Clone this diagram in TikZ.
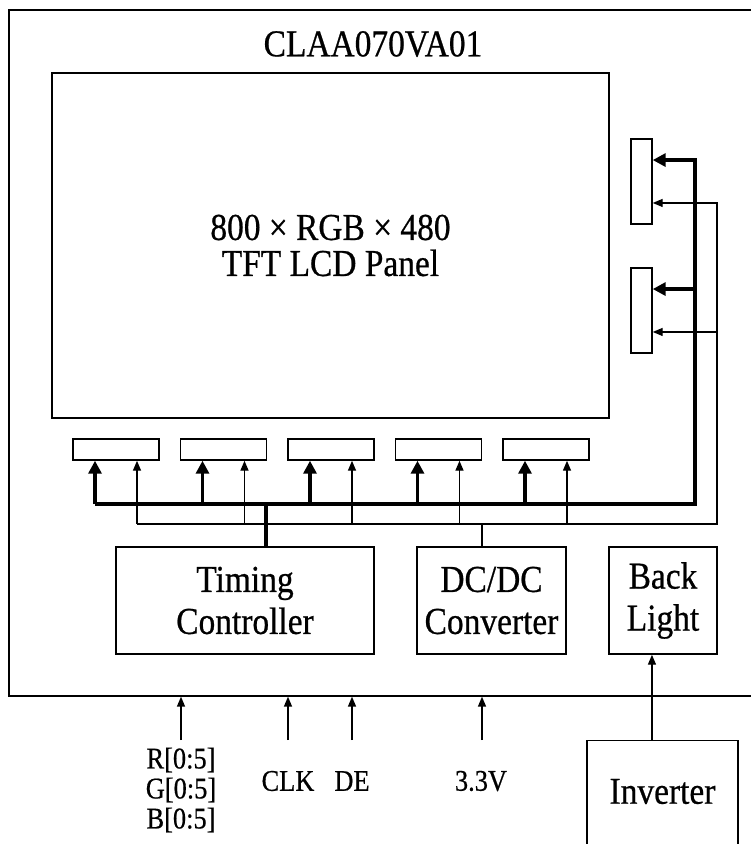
\documentclass[tikz,border=0pt]{standalone}
\usepackage{fontspec}
\setmainfont{Liberation Serif}[FakeStretch=0.88, FakeBold=0.6]
\usetikzlibrary{arrows.meta}

\begin{document}
\begin{tikzpicture}[
    x=0.75pt, y=-0.75pt,
    box/.style={draw, line width=1.1pt, inner sep=0pt, align=center, font=\fontsize{28.5}{31.5}\selectfont},
    chip/.style={draw, line width=1.1pt, inner sep=0pt},
    sig/.style={align=center, font=\fontsize{22.5}{22.5}\selectfont},
    bus/.style={line width=2.5pt},
    wire/.style={line width=1.1pt},
    fat/.style={bus, -{Triangle[length=9.75pt, width=9.75pt]}},
    link/.style={wire, -{Triangle[length=7.5pt, width=6pt]}}
]
\useasboundingbox (0,0) rectangle (751,844);
\clip (0,0) rectangle (751,844);
\node[draw, line width=1pt, minimum width=570.75pt, minimum height=514.5pt] (module) at (389.5,353) {};
\node[font=\fontsize{28.5}{30}\selectfont] (title) at (373,44) {CLAA070VA01};
\node[box, minimum width=417.75pt, minimum height=258.75pt, font=\fontsize{28.5}{27}\selectfont] (panel) at (330.5,245.5) {800 × RGB × 480\\TFT LCD Panel};

% source and gate drivers
\foreach \i/\x in {1/116, 2/223.5, 3/331, 4/438.5, 5/546}
  \node[chip, minimum width=64.5pt, minimum height=15.75pt] (s\i) at (\x,449.5) {};
\node[chip, minimum width=15.75pt, minimum height=63.75pt] (g1) at (641.5,181.5) {};
\node[chip, minimum width=15.75pt, minimum height=63.75pt] (g2) at (641.5,310.5) {};

\node[box, minimum width=193.5pt, minimum height=80.25pt] (tcon) at (245,600.5) {Timing\\Controller};
\node[box, minimum width=111.75pt, minimum height=80.25pt] (dcdc) at (491.5,600.5) {DC/DC\\Converter};
\node[box, minimum width=81pt, minimum height=80.25pt] (blight) at (663,600.5) {Back\\Light};
\node[draw, line width=1.1pt, anchor=north, minimum width=113.25pt, inner sep=0pt, text height=47.25pt, text depth=72.75pt, font=\fontsize{28.5}{30}\selectfont] (inv) at (662.5,740) {Inverter};

\coordinate (tbus) at (695,504);
\coordinate (wbus) at (717,524);

% buses
\draw[bus] ([xshift=15.75pt]tcon.north) -- ([xshift=15.75pt]tcon.north |- tbus);
\draw[fat] ([xshift=-15.75pt]s1.south |- tbus) -- (tbus) -- ([yshift=16.1pt]g1.east -| tbus) -- ([yshift=16.1pt]g1.east);
\draw[fat] ([yshift=16.1pt]g2.east -| tbus) -- ([yshift=16.1pt]g2.east);
\draw[wire] ([xshift=-7.1pt]dcdc.north) -- ([xshift=-7.1pt]dcdc.north |- wbus);
\draw[link] ([xshift=15.75pt]s1.south |- wbus) -- (wbus) -- ([yshift=-16.1pt]g1.east -| wbus) -- ([yshift=-16.1pt]g1.east);
\draw[link] ([yshift=-16.1pt]g2.east -| wbus) -- ([yshift=-16.1pt]g2.east);
\foreach \i in {1,...,5} {
  \draw[fat] ([xshift=-15.75pt]s\i.south |- tbus) -- ([xshift=-15.75pt]s\i.south);
  \draw[link] ([xshift=15.75pt]s\i.south |- wbus) -- ([xshift=15.75pt]s\i.south);
}

\draw[link] ([xshift=-7.9pt]inv.north) -- ([xshift=-7.9pt]inv.north |- blight.south);

% inputs
\coordinate (rgbin) at (181,740);
\coordinate (clkin) at (288,740);
\coordinate (dein) at (352,740);
\coordinate (vin) at (482,740);
\foreach \c in {rgbin, clkin, dein, vin}
  \draw[link] (\c) -- (\c |- module.south);
\node[sig] (rgb) at (181,790) {R[0:5]\\G[0:5]\\B[0:5]};
\node[sig] (clk) at (288,781) {CLK};
\node[sig] (de) at (352,781) {DE};
\node[sig] (volt) at (481,781) {3.3V};
\end{tikzpicture}
\end{document}
